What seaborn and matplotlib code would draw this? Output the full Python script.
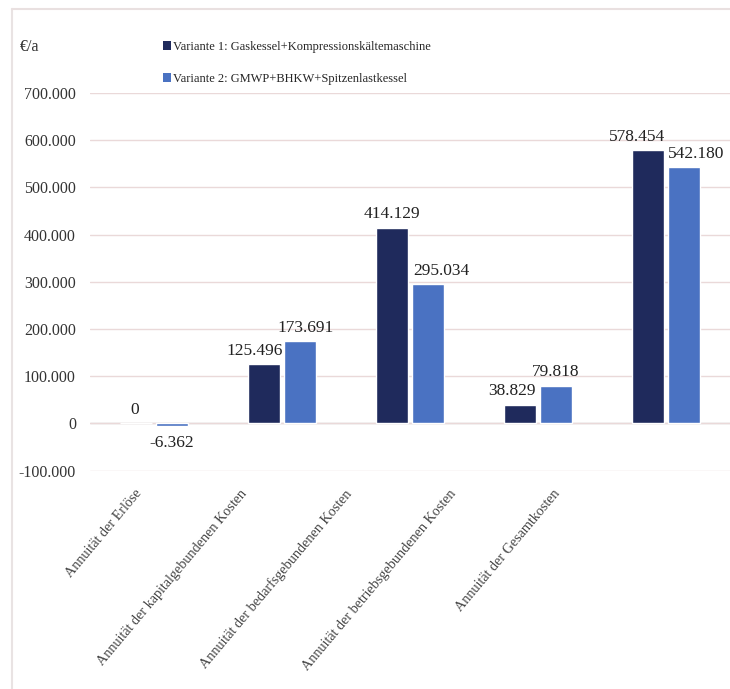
import matplotlib
matplotlib.use("Agg")
import matplotlib.pyplot as plt
import matplotlib.transforms as mtransforms
from matplotlib.lines import Line2D
from matplotlib.patches import Patch
import seaborn as sns
import pandas as pd

categories = [
    "Annuität der Erlöse",
    "Annuität der kapitalgebundenen Kosten",
    "Annuität der bedarfsgebundenen Kosten",
    "Annuität der betriebsgebundenen Kosten",
    "Annuität der Gesamtkosten",
]
series_names = [
    "Variante 1: Gaskessel+Kompressionskältemaschine",
    "Variante 2: GMWP+BHKW+Spitzenlastkessel",
]
variante1 = [0, 125496, 414129, 38829, 578454]
variante2 = [-6362, 173691, 295034, 79818, 542180]
y_ticks = [-100000, 0, 100000, 200000, 300000, 400000, 500000, 600000, 700000]

colors = ["#1f2a5c", "#4a72c2"]

df = pd.DataFrame({
    "Kategorie": categories * 2,
    "Variante": [series_names[0]] * len(categories) + [series_names[1]] * len(categories),
    "Wert": variante1 + variante2,
})

sns.set_theme(style="white")
plt.rcParams["font.family"] = ["Liberation Serif", "DejaVu Serif"]

fig = plt.figure(figsize=(7.3, 6.89), dpi=100)
fig.patch.set_facecolor("white")
ax = fig.add_axes([0.123, 0.316, 0.877, 0.549])

sns.barplot(data=df, x="Kategorie", y="Wert", hue="Variante",
            palette=colors, width=0.56, gap=0.12, ax=ax, legend=False,
            saturation=1)

ax.set_ylim(-101500, 700000)
ax.set_xlim(-0.5, len(categories) - 0.5)
ax.set_yticks(y_ticks)
ax.set_yticklabels([f"{t:,}".replace(",", ".") for t in y_ticks],
                   fontsize=11.5, color="#333333")
ax.tick_params(axis="y", length=0, pad=10)
ax.tick_params(axis="x", length=0, pad=4)
for s in ax.spines.values():
    s.set_visible(False)
ax.yaxis.grid(True, color="#ead9d9", linewidth=1.0)
ax.set_axisbelow(True)
ax.axhline(0, color="#cfcfcf", linewidth=1.0, zorder=0.5)
ax.set_xlabel("")
ax.set_ylabel("")
ax.set_xticks(range(len(categories)))
ax.set_xticklabels(categories, rotation=50, ha="right", rotation_mode="anchor",
                   fontsize=10.2, color="#444444")
# labels step slightly tighter than the categories
for i, lab in enumerate(ax.get_xticklabels()):
    shift = mtransforms.ScaledTranslation((-19 - 23.5 * i) / 100, -10 / 100,
                                          fig.dpi_scale_trans)
    lab.set_transform(lab.get_transform() + shift)

def fmt(v):
    return f"{v:,}".replace(",", ".")

# small horizontal nudges keep neighbouring value labels apart
nudge1 = [-1, -7, 0, -6, -8]
nudge2 = [0, 4, 10, 0, 9]
off = 0.14
for i, (a, b) in enumerate(zip(variante1, variante2)):
    for x, v, dx in ((i - off, a, nudge1[i]), (i + off, b, nudge2[i])):
        if v < 0:
            ax.annotate(fmt(v), (x, v), xytext=(dx, -6), textcoords="offset points",
                        ha="center", va="top", fontsize=12.5, color="#222222")
        else:
            ax.annotate(fmt(v), (x, v), xytext=(dx, 4), textcoords="offset points",
                        ha="center", va="bottom", fontsize=12.5, color="#222222")

# legend drawn above the plot area
handles = [Patch(facecolor=c, edgecolor="none") for c in colors]
fig.legend(handles, series_names, loc="upper left", bbox_to_anchor=(0.217, 0.948),
           frameon=False, fontsize=9, handlelength=0.6, handleheight=0.65,
           handletextpad=0.2, labelspacing=1.6, borderaxespad=0)

fig.text(0.027, 0.932, "€/a", fontsize=11.5, color="#333333", va="center")

# thin frame lines along the top and left edge
fig.add_artist(Line2D([0.016, 0.016], [0, 0.987], transform=fig.transFigure,
                      color="#e9e3e3", linewidth=1.5))
fig.add_artist(Line2D([0.016, 1.0], [0.987, 0.987], transform=fig.transFigure,
                      color="#e9e0e0", linewidth=1.5))

fig.savefig("out.png", dpi=100, facecolor="white")
